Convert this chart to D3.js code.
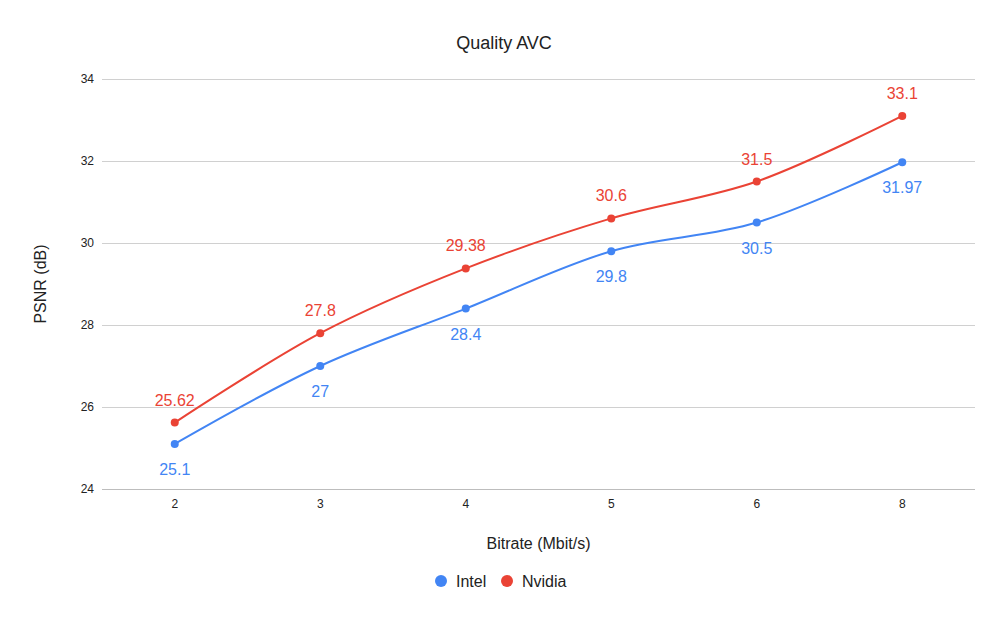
<!DOCTYPE html>
<html>
<head>
<meta charset="utf-8">
<script src="https://cdn.jsdelivr.net/npm/d3@7"></script>
<style>
  body { margin: 0; background: #fff; }
  text { font-family: "Liberation Sans", Arial, sans-serif; }
</style>
</head>
<body>
<div id="chart"></div>
<script>
// data
var categories = ["2", "3", "4", "5", "6", "8"];
var intel = [25.1, 27, 28.4, 29.8, 30.5, 31.97];
var nvidia = [25.62, 27.8, 29.38, 30.6, 31.5, 33.1];
var yTicks = [24, 26, 28, 30, 32, 34];

var series = [
    {name: "Intel", values: intel, color: "#4285f4", dy: 31},
    {name: "Nvidia", values: nvidia, color: "#ea4335", dy: -17}
];

var W = 1008, H = 623;
var margin = {top: 79, right: 33, bottom: 134, left: 102},
    width = W - margin.left - margin.right,
    height = H - margin.top - margin.bottom;

var svg = d3.select("#chart")
    .append("svg")
    .attr("width", W)
    .attr("height", H);

var g = svg.append("g")
    .attr("transform", "translate(" + margin.left + "," + margin.top + ")");

var x = d3.scaleBand()
    .domain(categories)
    .range([0, width]);

var y = d3.scaleLinear()
    .domain([24, 34])
    .range([height, 0]);

// gridlines
g.selectAll(".grid")
    .data(yTicks)
    .enter().append("line")
    .attr("x1", 0)
    .attr("x2", width)
    .attr("y1", function(d) { return y(d); })
    .attr("y2", function(d) { return y(d); })
    .attr("stroke", function(d) { return d === 24 ? "#bdbdbd" : "#d0d0d0"; })
    .attr("stroke-width", 1)
    .attr("shape-rendering", "crispEdges");

// y axis labels
var yAxis = g.append("g")
    .call(d3.axisLeft(y).tickValues(yTicks).tickSize(0).tickPadding(8));
yAxis.select(".domain").remove();
yAxis.selectAll("text")
    .style("font-size", "12px")
    .style("font-family", "Liberation Sans, Arial, sans-serif")
    .attr("fill", "#222");

// x axis labels
var xAxis = g.append("g")
    .attr("transform", "translate(0," + height + ")")
    .call(d3.axisBottom(x).tickSize(0).tickPadding(10));
xAxis.select(".domain").remove();
xAxis.selectAll("text")
    .style("font-size", "12px")
    .style("font-family", "Liberation Sans, Arial, sans-serif")
    .attr("fill", "#222");

var cx = function(i) { return x(categories[i]) + x.bandwidth() / 2; };

var line = d3.line()
    .x(function(d, i) { return cx(i); })
    .y(function(d) { return y(d); })
    .curve(d3.curveCatmullRom.alpha(0.5));

series.forEach(function(s) {
    g.append("path")
        .datum(s.values)
        .attr("fill", "none")
        .attr("stroke", s.color)
        .attr("stroke-width", 2)
        .attr("d", line);

    g.selectAll(".pt-" + s.name)
        .data(s.values)
        .enter().append("circle")
        .attr("cx", function(d, i) { return cx(i); })
        .attr("cy", function(d) { return y(d); })
        .attr("r", 4)
        .attr("fill", s.color);

    g.selectAll(".lbl-" + s.name)
        .data(s.values)
        .enter().append("text")
        .attr("x", function(d, i) { return cx(i); })
        .attr("y", function(d) { return y(d) + s.dy; })
        .attr("text-anchor", "middle")
        .attr("fill", s.color)
        .style("font-size", "16px")
        .text(function(d) { return d; });
});

// titles
svg.append("text")
    .attr("x", 504)
    .attr("y", 49)
    .attr("text-anchor", "middle")
    .style("font-size", "18px")
    .attr("fill", "#222")
    .text("Quality AVC");

svg.append("text")
    .attr("x", margin.left + width / 2)
    .attr("y", 549)
    .attr("text-anchor", "middle")
    .style("font-size", "16px")
    .attr("fill", "#222")
    .text("Bitrate (Mbit/s)");

svg.append("text")
    .attr("transform", "translate(46," + (margin.top + height / 2) + ") rotate(-90)")
    .attr("text-anchor", "middle")
    .style("font-size", "16px")
    .attr("fill", "#222")
    .text("PSNR (dB)");

// legend
var legend = svg.append("g").attr("transform", "translate(441,581)");
var lx = [0, 66];
series.forEach(function(s, i) {
    legend.append("circle")
        .attr("cx", lx[i])
        .attr("cy", 0)
        .attr("r", 6)
        .attr("fill", s.color);
    legend.append("text")
        .attr("x", lx[i] + 15)
        .attr("y", 6)
        .style("font-size", "16px")
        .attr("fill", "#222")
        .text(s.name);
});
</script>
</body>
</html>
